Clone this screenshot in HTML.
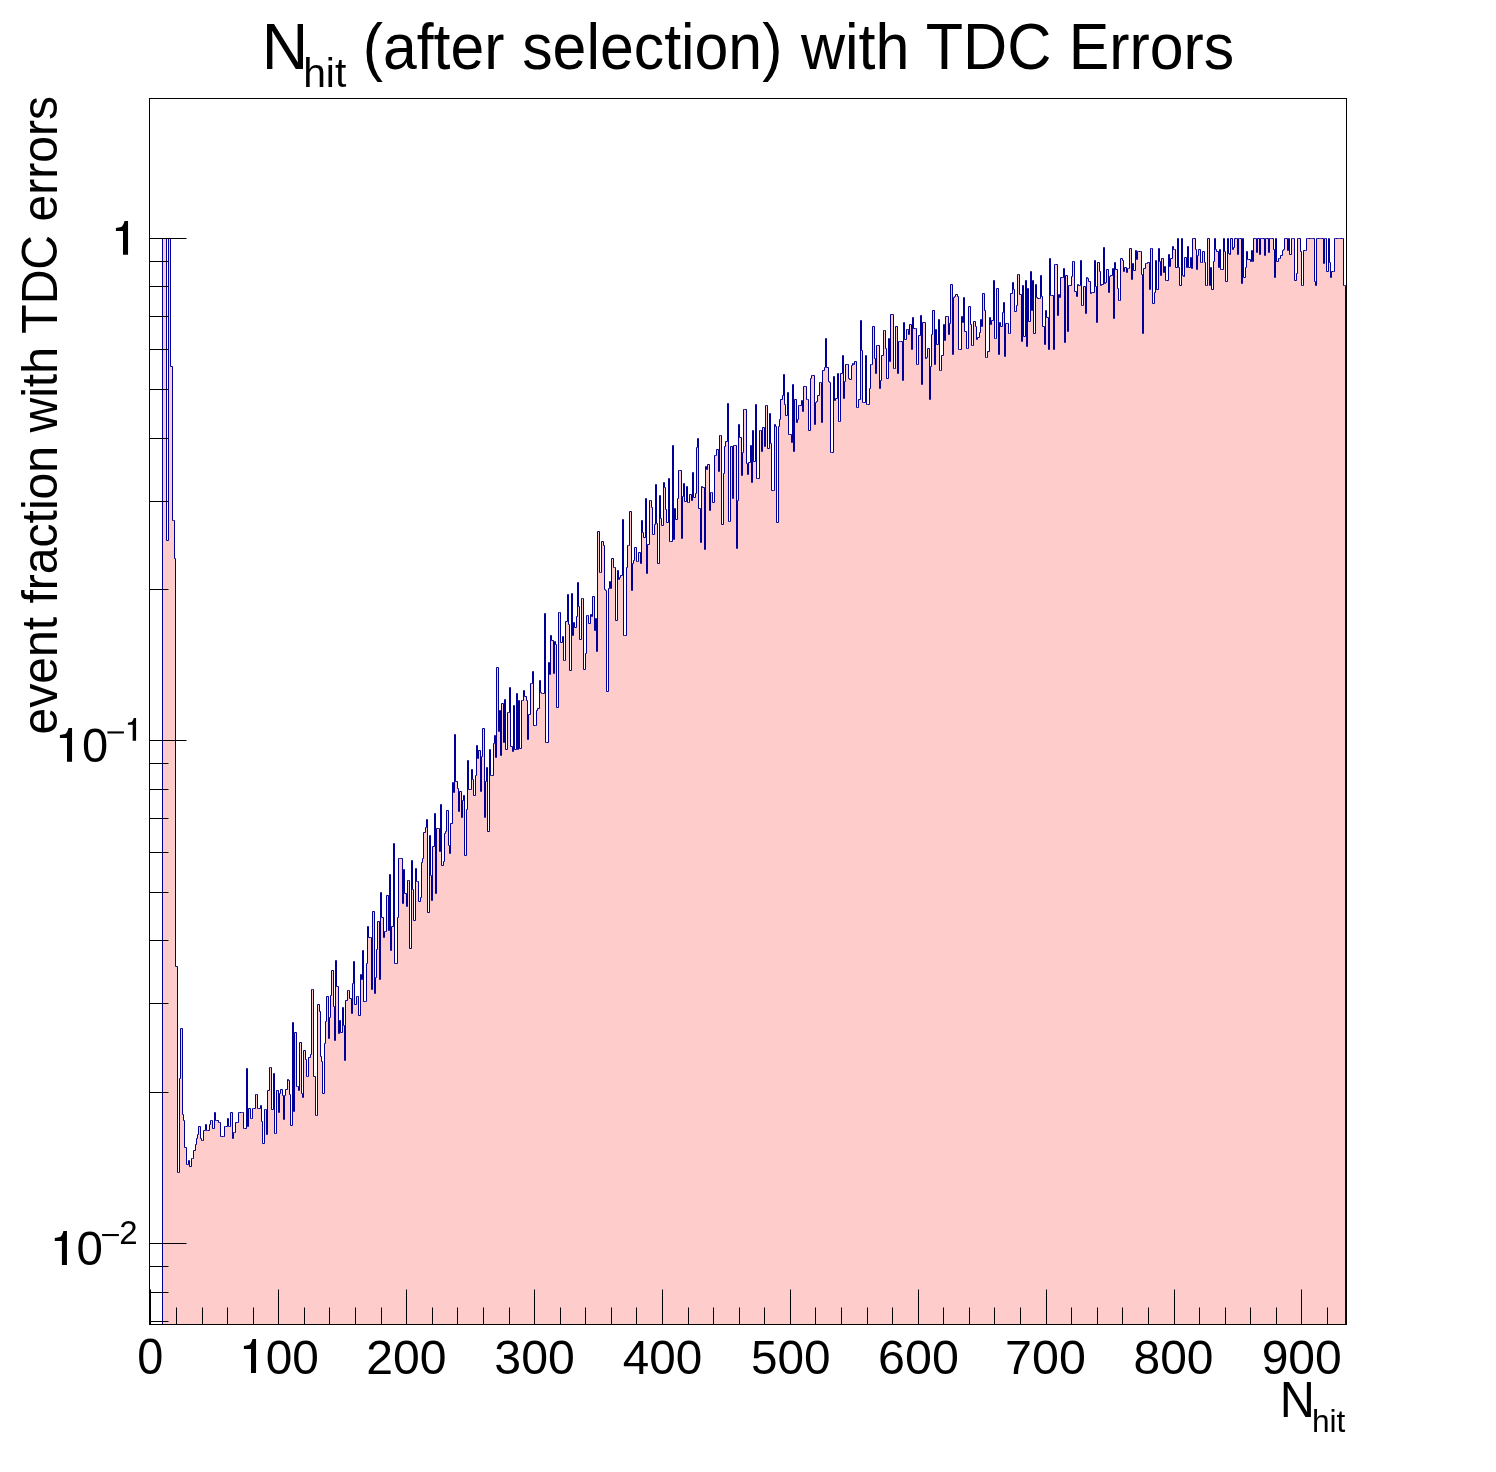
<!DOCTYPE html><html><head><meta charset="utf-8"><style>html,body{margin:0;padding:0;background:#fff;overflow:hidden}svg{display:block;will-change:transform}text{font-family:"Liberation Sans",sans-serif;fill:#000;font-kerning:none}</style></head><body>
<svg width="1496" height="1472" viewBox="0 0 1496 1472">
<rect x="0" y="0" width="1496" height="1472" fill="#fff"/>
<path d="M162.5 1324.5 162.5 238.5 164.5 238.5 164.5 238.5 165.5 238.5 165.5 238.5 166.5 238.5 166.5 540.5 168.5 540.5 168.5 238.5 169.5 238.5 169.5 238.5 170.5 238.5 170.5 366.5 172.5 366.5 172.5 520.5 173.5 520.5 173.5 520.5 174.5 520.5 174.5 558.5 175.5 558.5 175.5 966.5 177.5 966.5 177.5 1172.5 178.5 1172.5 178.5 1172.5 179.5 1172.5 179.5 1078.5 180.5 1078.5 180.5 1028.5 182.5 1028.5 182.5 1114.5 183.5 1114.5 183.5 1120.5 184.5 1120.5 184.5 1147.5 186.5 1147.5 186.5 1164.5 187.5 1164.5 187.5 1164.5 188.5 1164.5 188.5 1160.5 189.5 1160.5 189.5 1166.5 191.5 1166.5 191.5 1158.5 192.5 1158.5 192.5 1158.5 193.5 1158.5 193.5 1150.5 195.5 1150.5 195.5 1144.5 196.5 1144.5 196.5 1138.5 197.5 1138.5 197.5 1134.5 198.5 1134.5 198.5 1126.5 200.5 1126.5 200.5 1138.5 201.5 1138.5 201.5 1140.5 202.5 1140.5 202.5 1140.5 203.5 1140.5 203.5 1130.5 205.5 1130.5 205.5 1124.5 206.5 1124.5 206.5 1130.5 207.5 1130.5 207.5 1130.5 209.5 1130.5 209.5 1124.5 210.5 1124.5 210.5 1120.5 211.5 1120.5 211.5 1120.5 212.5 1120.5 212.5 1128.5 214.5 1128.5 214.5 1112.5 215.5 1112.5 215.5 1120.5 216.5 1120.5 216.5 1120.5 218.5 1120.5 218.5 1122.5 219.5 1122.5 219.5 1122.5 220.5 1122.5 220.5 1136.5 221.5 1136.5 221.5 1136.5 223.5 1136.5 223.5 1136.5 224.5 1136.5 224.5 1126.5 225.5 1126.5 225.5 1126.5 227.5 1126.5 227.5 1118.5 228.5 1118.5 228.5 1126.5 229.5 1126.5 229.5 1126.5 230.5 1126.5 230.5 1112.5 232.5 1112.5 232.5 1138.5 233.5 1138.5 233.5 1132.5 234.5 1132.5 234.5 1132.5 235.5 1132.5 235.5 1122.5 237.5 1122.5 237.5 1122.5 238.5 1122.5 238.5 1112.5 239.5 1112.5 239.5 1112.5 241.5 1112.5 241.5 1112.5 242.5 1112.5 242.5 1112.5 243.5 1112.5 243.5 1128.5 244.5 1128.5 244.5 1128.5 246.5 1128.5 246.5 1068.5 247.5 1068.5 247.5 1126.5 248.5 1126.5 248.5 1108.5 250.5 1108.5 250.5 1118.5 251.5 1118.5 251.5 1118.5 252.5 1118.5 252.5 1108.5 253.5 1108.5 253.5 1108.5 255.5 1108.5 255.5 1094.5 256.5 1094.5 256.5 1094.5 257.5 1094.5 257.5 1108.5 258.5 1108.5 258.5 1108.5 260.5 1108.5 260.5 1105.5 261.5 1105.5 261.5 1121.5 262.5 1121.5 262.5 1143.5 264.5 1143.5 264.5 1109.5 265.5 1109.5 265.5 1109.5 266.5 1109.5 266.5 1134.5 267.5 1134.5 267.5 1090.5 269.5 1090.5 269.5 1067.5 270.5 1067.5 270.5 1067.5 271.5 1067.5 271.5 1109.5 273.5 1109.5 273.5 1073.5 274.5 1073.5 274.5 1133.5 275.5 1133.5 275.5 1133.5 276.5 1133.5 276.5 1090.5 278.5 1090.5 278.5 1112.5 279.5 1112.5 279.5 1093.5 280.5 1093.5 280.5 1089.5 282.5 1089.5 282.5 1095.5 283.5 1095.5 283.5 1119.5 284.5 1119.5 284.5 1095.5 285.5 1095.5 285.5 1089.5 287.5 1089.5 287.5 1079.5 288.5 1079.5 288.5 1080.5 289.5 1080.5 289.5 1094.5 290.5 1094.5 290.5 1125.5 292.5 1125.5 292.5 1022.5 293.5 1022.5 293.5 1111.5 294.5 1111.5 294.5 1032.5 296.5 1032.5 296.5 1086.5 297.5 1086.5 297.5 1086.5 298.5 1086.5 298.5 1090.5 299.5 1090.5 299.5 1042.5 301.5 1042.5 301.5 1093.5 302.5 1093.5 302.5 1097.5 303.5 1097.5 303.5 1050.5 305.5 1050.5 305.5 1059.5 306.5 1059.5 306.5 1076.5 307.5 1076.5 307.5 1076.5 308.5 1076.5 308.5 1057.5 310.5 1057.5 310.5 1054.5 311.5 1054.5 311.5 989.5 312.5 989.5 312.5 989.5 313.5 989.5 313.5 1076.5 315.5 1076.5 315.5 1115.5 316.5 1115.5 316.5 1115.5 317.5 1115.5 317.5 1004.5 319.5 1004.5 319.5 1011.5 320.5 1011.5 320.5 1056.5 321.5 1056.5 321.5 1061.5 322.5 1061.5 322.5 1093.5 324.5 1093.5 324.5 1043.5 325.5 1043.5 325.5 1021.5 326.5 1021.5 326.5 996.5 328.5 996.5 328.5 1038.5 329.5 1038.5 329.5 1017.5 330.5 1017.5 330.5 995.5 331.5 995.5 331.5 970.5 333.5 970.5 333.5 1006.5 334.5 1006.5 334.5 1040.5 335.5 1040.5 335.5 960.5 336.5 960.5 336.5 986.5 338.5 986.5 338.5 1033.5 339.5 1033.5 339.5 1020.5 340.5 1020.5 340.5 1032.5 342.5 1032.5 342.5 1007.5 343.5 1007.5 343.5 1025.5 344.5 1025.5 344.5 1060.5 345.5 1060.5 345.5 1000.5 347.5 1000.5 347.5 990.5 348.5 990.5 348.5 990.5 349.5 990.5 349.5 998.5 351.5 998.5 351.5 1013.5 352.5 1013.5 352.5 983.5 353.5 983.5 353.5 961.5 354.5 961.5 354.5 1004.5 356.5 1004.5 356.5 996.5 357.5 996.5 357.5 996.5 358.5 996.5 358.5 1015.5 360.5 1015.5 360.5 974.5 361.5 974.5 361.5 979.5 362.5 979.5 362.5 950.5 363.5 950.5 363.5 1001.5 365.5 1001.5 365.5 1001.5 366.5 1001.5 366.5 963.5 367.5 963.5 367.5 926.5 368.5 926.5 368.5 937.5 370.5 937.5 370.5 937.5 371.5 937.5 371.5 989.5 372.5 989.5 372.5 911.5 374.5 911.5 374.5 993.5 375.5 993.5 375.5 977.5 376.5 977.5 376.5 949.5 377.5 949.5 377.5 921.5 379.5 921.5 379.5 979.5 380.5 979.5 380.5 892.5 381.5 892.5 381.5 917.5 383.5 917.5 383.5 937.5 384.5 937.5 384.5 931.5 385.5 931.5 385.5 931.5 386.5 931.5 386.5 895.5 388.5 895.5 388.5 930.5 389.5 930.5 389.5 874.5 390.5 874.5 390.5 950.5 391.5 950.5 391.5 926.5 393.5 926.5 393.5 843.5 394.5 843.5 394.5 963.5 395.5 963.5 395.5 963.5 397.5 963.5 397.5 917.5 398.5 917.5 398.5 858.5 399.5 858.5 399.5 858.5 400.5 858.5 400.5 858.5 402.5 858.5 402.5 903.5 403.5 903.5 403.5 869.5 404.5 869.5 404.5 893.5 406.5 893.5 406.5 906.5 407.5 906.5 407.5 880.5 408.5 880.5 408.5 880.5 409.5 880.5 409.5 948.5 411.5 948.5 411.5 860.5 412.5 860.5 412.5 889.5 413.5 889.5 413.5 920.5 415.5 920.5 415.5 868.5 416.5 868.5 416.5 881.5 417.5 881.5 417.5 881.5 418.5 881.5 418.5 901.5 420.5 901.5 420.5 897.5 421.5 897.5 421.5 862.5 422.5 862.5 422.5 858.5 423.5 858.5 423.5 832.5 425.5 832.5 425.5 827.5 426.5 827.5 426.5 819.5 427.5 819.5 427.5 912.5 429.5 912.5 429.5 835.5 430.5 835.5 430.5 875.5 431.5 875.5 431.5 900.5 432.5 900.5 432.5 846.5 434.5 846.5 434.5 813.5 435.5 813.5 435.5 893.5 436.5 893.5 436.5 828.5 438.5 828.5 438.5 828.5 439.5 828.5 439.5 851.5 440.5 851.5 440.5 804.5 441.5 804.5 441.5 865.5 443.5 865.5 443.5 861.5 444.5 861.5 444.5 833.5 445.5 833.5 445.5 831.5 446.5 831.5 446.5 810.5 448.5 810.5 448.5 845.5 449.5 845.5 449.5 853.5 450.5 853.5 450.5 823.5 452.5 823.5 452.5 782.5 453.5 782.5 453.5 792.5 454.5 792.5 454.5 734.5 455.5 734.5 455.5 781.5 457.5 781.5 457.5 788.5 458.5 788.5 458.5 811.5 459.5 811.5 459.5 791.5 461.5 791.5 461.5 817.5 462.5 817.5 462.5 800.5 463.5 800.5 463.5 795.5 464.5 795.5 464.5 855.5 466.5 855.5 466.5 809.5 467.5 809.5 467.5 760.5 468.5 760.5 468.5 789.5 470.5 789.5 470.5 789.5 471.5 789.5 471.5 769.5 472.5 769.5 472.5 779.5 473.5 779.5 473.5 795.5 475.5 795.5 475.5 775.5 476.5 775.5 476.5 745.5 477.5 745.5 477.5 758.5 478.5 758.5 478.5 750.5 480.5 750.5 480.5 791.5 481.5 791.5 481.5 756.5 482.5 756.5 482.5 728.5 484.5 728.5 484.5 817.5 485.5 817.5 485.5 781.5 486.5 781.5 486.5 767.5 487.5 767.5 487.5 831.5 489.5 831.5 489.5 749.5 490.5 749.5 490.5 775.5 491.5 775.5 491.5 775.5 493.5 775.5 493.5 743.5 494.5 743.5 494.5 735.5 495.5 735.5 495.5 757.5 496.5 757.5 496.5 667.5 498.5 667.5 498.5 731.5 499.5 731.5 499.5 710.5 500.5 710.5 500.5 755.5 501.5 755.5 501.5 703.5 503.5 703.5 503.5 742.5 504.5 742.5 504.5 699.5 505.5 699.5 505.5 749.5 507.5 749.5 507.5 712.5 508.5 712.5 508.5 712.5 509.5 712.5 509.5 687.5 510.5 687.5 510.5 746.5 512.5 746.5 512.5 751.5 513.5 751.5 513.5 705.5 514.5 705.5 514.5 749.5 516.5 749.5 516.5 693.5 517.5 693.5 517.5 749.5 518.5 749.5 518.5 700.5 519.5 700.5 519.5 748.5 521.5 748.5 521.5 700.5 522.5 700.5 522.5 700.5 523.5 700.5 523.5 690.5 524.5 690.5 524.5 696.5 526.5 696.5 526.5 700.5 527.5 700.5 527.5 739.5 528.5 739.5 528.5 714.5 530.5 714.5 530.5 683.5 531.5 683.5 531.5 683.5 532.5 683.5 532.5 671.5 533.5 671.5 533.5 725.5 535.5 725.5 535.5 725.5 536.5 725.5 536.5 710.5 537.5 710.5 537.5 708.5 539.5 708.5 539.5 680.5 540.5 680.5 540.5 692.5 541.5 692.5 541.5 693.5 542.5 693.5 542.5 693.5 544.5 693.5 544.5 613.5 545.5 613.5 545.5 742.5 546.5 742.5 546.5 742.5 548.5 742.5 548.5 662.5 549.5 662.5 549.5 674.5 550.5 674.5 550.5 635.5 551.5 635.5 551.5 640.5 553.5 640.5 553.5 673.5 554.5 673.5 554.5 641.5 555.5 641.5 555.5 644.5 556.5 644.5 556.5 707.5 558.5 707.5 558.5 612.5 559.5 612.5 559.5 612.5 560.5 612.5 560.5 642.5 562.5 642.5 562.5 636.5 563.5 636.5 563.5 660.5 564.5 660.5 564.5 660.5 565.5 660.5 565.5 621.5 567.5 621.5 567.5 594.5 568.5 594.5 568.5 624.5 569.5 624.5 569.5 670.5 571.5 670.5 571.5 593.5 572.5 593.5 572.5 635.5 573.5 635.5 573.5 622.5 574.5 622.5 574.5 627.5 576.5 627.5 576.5 616.5 577.5 616.5 577.5 582.5 578.5 582.5 578.5 606.5 579.5 606.5 579.5 639.5 581.5 639.5 581.5 598.5 582.5 598.5 582.5 598.5 583.5 598.5 583.5 669.5 585.5 669.5 585.5 653.5 586.5 653.5 586.5 615.5 587.5 615.5 587.5 615.5 588.5 615.5 588.5 623.5 590.5 623.5 590.5 614.5 591.5 614.5 591.5 616.5 592.5 616.5 592.5 596.5 594.5 596.5 594.5 630.5 595.5 630.5 595.5 618.5 596.5 618.5 596.5 651.5 597.5 651.5 597.5 531.5 599.5 531.5 599.5 572.5 600.5 572.5 600.5 572.5 601.5 572.5 601.5 541.5 603.5 541.5 603.5 545.5 604.5 545.5 604.5 589.5 605.5 589.5 605.5 590.5 606.5 590.5 606.5 691.5 608.5 691.5 608.5 588.5 609.5 588.5 609.5 581.5 610.5 581.5 610.5 588.5 611.5 588.5 611.5 558.5 613.5 558.5 613.5 567.5 614.5 567.5 614.5 567.5 615.5 567.5 615.5 620.5 617.5 620.5 617.5 570.5 618.5 570.5 618.5 579.5 619.5 579.5 619.5 577.5 620.5 577.5 620.5 575.5 622.5 575.5 622.5 519.5 623.5 519.5 623.5 635.5 624.5 635.5 624.5 635.5 626.5 635.5 626.5 567.5 627.5 567.5 627.5 545.5 628.5 545.5 628.5 545.5 629.5 545.5 629.5 511.5 631.5 511.5 631.5 590.5 632.5 590.5 632.5 563.5 633.5 563.5 633.5 560.5 634.5 560.5 634.5 547.5 636.5 547.5 636.5 561.5 637.5 561.5 637.5 561.5 638.5 561.5 638.5 552.5 640.5 552.5 640.5 563.5 641.5 563.5 641.5 520.5 642.5 520.5 642.5 532.5 643.5 532.5 643.5 537.5 645.5 537.5 645.5 498.5 646.5 498.5 646.5 573.5 647.5 573.5 647.5 544.5 649.5 544.5 649.5 500.5 650.5 500.5 650.5 500.5 651.5 500.5 651.5 507.5 652.5 507.5 652.5 534.5 654.5 534.5 654.5 524.5 655.5 524.5 655.5 484.5 656.5 484.5 656.5 523.5 657.5 523.5 657.5 563.5 659.5 563.5 659.5 495.5 660.5 495.5 660.5 518.5 661.5 518.5 661.5 525.5 663.5 525.5 663.5 482.5 664.5 482.5 664.5 487.5 665.5 487.5 665.5 509.5 666.5 509.5 666.5 522.5 668.5 522.5 668.5 478.5 669.5 478.5 669.5 541.5 670.5 541.5 670.5 541.5 672.5 541.5 672.5 445.5 673.5 445.5 673.5 539.5 674.5 539.5 674.5 508.5 675.5 508.5 675.5 519.5 677.5 519.5 677.5 498.5 678.5 498.5 678.5 470.5 679.5 470.5 679.5 470.5 681.5 470.5 681.5 538.5 682.5 538.5 682.5 496.5 683.5 496.5 683.5 483.5 684.5 483.5 684.5 501.5 686.5 501.5 686.5 486.5 687.5 486.5 687.5 502.5 688.5 502.5 688.5 502.5 689.5 502.5 689.5 494.5 691.5 494.5 691.5 500.5 692.5 500.5 692.5 472.5 693.5 472.5 693.5 497.5 695.5 497.5 695.5 493.5 696.5 493.5 696.5 447.5 697.5 447.5 697.5 438.5 698.5 438.5 698.5 508.5 700.5 508.5 700.5 542.5 701.5 542.5 701.5 486.5 702.5 486.5 702.5 487.5 704.5 487.5 704.5 549.5 705.5 549.5 705.5 466.5 706.5 466.5 706.5 469.5 707.5 469.5 707.5 464.5 709.5 464.5 709.5 510.5 710.5 510.5 710.5 492.5 711.5 492.5 711.5 492.5 712.5 492.5 712.5 502.5 714.5 502.5 714.5 455.5 715.5 455.5 715.5 455.5 716.5 455.5 716.5 449.5 718.5 449.5 718.5 471.5 719.5 471.5 719.5 435.5 720.5 435.5 720.5 435.5 721.5 435.5 721.5 524.5 723.5 524.5 723.5 473.5 724.5 473.5 724.5 446.5 725.5 446.5 725.5 441.5 727.5 441.5 727.5 403.5 728.5 403.5 728.5 521.5 729.5 521.5 729.5 521.5 730.5 521.5 730.5 446.5 732.5 446.5 732.5 498.5 733.5 498.5 733.5 445.5 734.5 445.5 734.5 445.5 736.5 445.5 736.5 548.5 737.5 548.5 737.5 500.5 738.5 500.5 738.5 424.5 739.5 424.5 739.5 437.5 741.5 437.5 741.5 475.5 742.5 475.5 742.5 452.5 743.5 452.5 743.5 409.5 744.5 409.5 744.5 409.5 746.5 409.5 746.5 463.5 747.5 463.5 747.5 474.5 748.5 474.5 748.5 462.5 750.5 462.5 750.5 445.5 751.5 445.5 751.5 482.5 752.5 482.5 752.5 430.5 753.5 430.5 753.5 461.5 755.5 461.5 755.5 404.5 756.5 404.5 756.5 478.5 757.5 478.5 757.5 478.5 759.5 478.5 759.5 430.5 760.5 430.5 760.5 430.5 761.5 430.5 761.5 451.5 762.5 451.5 762.5 427.5 764.5 427.5 764.5 446.5 765.5 446.5 765.5 405.5 766.5 405.5 766.5 405.5 767.5 405.5 767.5 448.5 769.5 448.5 769.5 413.5 770.5 413.5 770.5 443.5 771.5 443.5 771.5 490.5 773.5 490.5 773.5 490.5 774.5 490.5 774.5 424.5 775.5 424.5 775.5 426.5 776.5 426.5 776.5 522.5 778.5 522.5 778.5 426.5 779.5 426.5 779.5 419.5 780.5 419.5 780.5 399.5 782.5 399.5 782.5 395.5 783.5 395.5 783.5 374.5 784.5 374.5 784.5 404.5 785.5 404.5 785.5 415.5 787.5 415.5 787.5 392.5 788.5 392.5 788.5 434.5 789.5 434.5 789.5 434.5 791.5 434.5 791.5 442.5 792.5 442.5 792.5 384.5 793.5 384.5 793.5 451.5 794.5 451.5 794.5 399.5 796.5 399.5 796.5 422.5 797.5 422.5 797.5 419.5 798.5 419.5 798.5 405.5 799.5 405.5 799.5 405.5 801.5 405.5 801.5 400.5 802.5 400.5 802.5 411.5 803.5 411.5 803.5 386.5 805.5 386.5 805.5 386.5 806.5 386.5 806.5 399.5 807.5 399.5 807.5 399.5 808.5 399.5 808.5 430.5 810.5 430.5 810.5 378.5 811.5 378.5 811.5 375.5 812.5 375.5 812.5 375.5 814.5 375.5 814.5 424.5 815.5 424.5 815.5 402.5 816.5 402.5 816.5 401.5 817.5 401.5 817.5 395.5 819.5 395.5 819.5 382.5 820.5 382.5 820.5 382.5 821.5 382.5 821.5 422.5 822.5 422.5 822.5 370.5 824.5 370.5 824.5 367.5 825.5 367.5 825.5 338.5 826.5 338.5 826.5 367.5 828.5 367.5 828.5 381.5 829.5 381.5 829.5 382.5 830.5 382.5 830.5 452.5 831.5 452.5 831.5 452.5 833.5 452.5 833.5 376.5 834.5 376.5 834.5 400.5 835.5 400.5 835.5 398.5 837.5 398.5 837.5 373.5 838.5 373.5 838.5 421.5 839.5 421.5 839.5 421.5 840.5 421.5 840.5 373.5 842.5 373.5 842.5 355.5 843.5 355.5 843.5 398.5 844.5 398.5 844.5 381.5 845.5 381.5 845.5 364.5 847.5 364.5 847.5 364.5 848.5 364.5 848.5 378.5 849.5 378.5 849.5 379.5 851.5 379.5 851.5 365.5 852.5 365.5 852.5 363.5 853.5 363.5 853.5 364.5 854.5 364.5 854.5 361.5 856.5 361.5 856.5 407.5 857.5 407.5 857.5 407.5 858.5 407.5 858.5 399.5 860.5 399.5 860.5 320.5 861.5 320.5 861.5 350.5 862.5 350.5 862.5 402.5 863.5 402.5 863.5 402.5 865.5 402.5 865.5 355.5 866.5 355.5 866.5 404.5 867.5 404.5 867.5 404.5 869.5 404.5 869.5 388.5 870.5 388.5 870.5 364.5 871.5 364.5 871.5 364.5 872.5 364.5 872.5 326.5 874.5 326.5 874.5 358.5 875.5 358.5 875.5 373.5 876.5 373.5 876.5 345.5 877.5 345.5 877.5 345.5 879.5 345.5 879.5 388.5 880.5 388.5 880.5 380.5 881.5 380.5 881.5 355.5 883.5 355.5 883.5 330.5 884.5 330.5 884.5 330.5 885.5 330.5 885.5 348.5 886.5 348.5 886.5 378.5 888.5 378.5 888.5 338.5 889.5 338.5 889.5 361.5 890.5 361.5 890.5 314.5 892.5 314.5 892.5 314.5 893.5 314.5 893.5 368.5 894.5 368.5 894.5 368.5 895.5 368.5 895.5 326.5 897.5 326.5 897.5 373.5 898.5 373.5 898.5 341.5 899.5 341.5 899.5 341.5 900.5 341.5 900.5 341.5 902.5 341.5 902.5 380.5 903.5 380.5 903.5 322.5 904.5 322.5 904.5 339.5 906.5 339.5 906.5 329.5 907.5 329.5 907.5 329.5 908.5 329.5 908.5 334.5 909.5 334.5 909.5 324.5 911.5 324.5 911.5 349.5 912.5 349.5 912.5 317.5 913.5 317.5 913.5 328.5 915.5 328.5 915.5 328.5 916.5 328.5 916.5 364.5 917.5 364.5 917.5 364.5 918.5 364.5 918.5 335.5 920.5 335.5 920.5 315.5 921.5 315.5 921.5 384.5 922.5 384.5 922.5 322.5 924.5 322.5 924.5 322.5 925.5 322.5 925.5 358.5 926.5 358.5 926.5 357.5 927.5 357.5 927.5 348.5 929.5 348.5 929.5 399.5 930.5 399.5 930.5 366.5 931.5 366.5 931.5 334.5 932.5 334.5 932.5 310.5 934.5 310.5 934.5 364.5 935.5 364.5 935.5 329.5 936.5 329.5 936.5 344.5 938.5 344.5 938.5 319.5 939.5 319.5 939.5 370.5 940.5 370.5 940.5 370.5 941.5 370.5 941.5 355.5 943.5 355.5 943.5 324.5 944.5 324.5 944.5 340.5 945.5 340.5 945.5 316.5 947.5 316.5 947.5 316.5 948.5 316.5 948.5 334.5 949.5 334.5 949.5 323.5 950.5 323.5 950.5 284.5 952.5 284.5 952.5 354.5 953.5 354.5 953.5 297.5 954.5 297.5 954.5 296.5 955.5 296.5 955.5 294.5 957.5 294.5 957.5 296.5 958.5 296.5 958.5 349.5 959.5 349.5 959.5 349.5 961.5 349.5 961.5 316.5 962.5 316.5 962.5 322.5 963.5 322.5 963.5 297.5 964.5 297.5 964.5 331.5 966.5 331.5 966.5 348.5 967.5 348.5 967.5 348.5 968.5 348.5 968.5 306.5 970.5 306.5 970.5 324.5 971.5 324.5 971.5 345.5 972.5 345.5 972.5 345.5 973.5 345.5 973.5 321.5 975.5 321.5 975.5 326.5 976.5 326.5 976.5 339.5 977.5 339.5 977.5 337.5 979.5 337.5 979.5 332.5 980.5 332.5 980.5 319.5 981.5 319.5 981.5 326.5 982.5 326.5 982.5 293.5 984.5 293.5 984.5 310.5 985.5 310.5 985.5 357.5 986.5 357.5 986.5 357.5 987.5 357.5 987.5 351.5 989.5 351.5 989.5 317.5 990.5 317.5 990.5 324.5 991.5 324.5 991.5 320.5 993.5 320.5 993.5 280.5 994.5 280.5 994.5 338.5 995.5 338.5 995.5 338.5 996.5 338.5 996.5 288.5 998.5 288.5 998.5 354.5 999.5 354.5 999.5 322.5 1000.5 322.5 1000.5 326.5 1002.5 326.5 1002.5 312.5 1003.5 312.5 1003.5 302.5 1004.5 302.5 1004.5 356.5 1005.5 356.5 1005.5 323.5 1007.5 323.5 1007.5 323.5 1008.5 323.5 1008.5 333.5 1009.5 333.5 1009.5 333.5 1010.5 333.5 1010.5 293.5 1012.5 293.5 1012.5 282.5 1013.5 282.5 1013.5 289.5 1014.5 289.5 1014.5 311.5 1016.5 311.5 1016.5 305.5 1017.5 305.5 1017.5 274.5 1018.5 274.5 1018.5 274.5 1019.5 274.5 1019.5 294.5 1021.5 294.5 1021.5 341.5 1022.5 341.5 1022.5 285.5 1023.5 285.5 1023.5 336.5 1025.5 336.5 1025.5 280.5 1026.5 280.5 1026.5 346.5 1027.5 346.5 1027.5 288.5 1028.5 288.5 1028.5 321.5 1030.5 321.5 1030.5 271.5 1031.5 271.5 1031.5 310.5 1032.5 310.5 1032.5 280.5 1033.5 280.5 1033.5 333.5 1035.5 333.5 1035.5 284.5 1036.5 284.5 1036.5 297.5 1037.5 297.5 1037.5 298.5 1039.5 298.5 1039.5 298.5 1040.5 298.5 1040.5 275.5 1041.5 275.5 1041.5 296.5 1042.5 296.5 1042.5 326.5 1044.5 326.5 1044.5 344.5 1045.5 344.5 1045.5 310.5 1046.5 310.5 1046.5 317.5 1048.5 317.5 1048.5 349.5 1049.5 349.5 1049.5 258.5 1050.5 258.5 1050.5 295.5 1051.5 295.5 1051.5 295.5 1053.5 295.5 1053.5 349.5 1054.5 349.5 1054.5 264.5 1055.5 264.5 1055.5 264.5 1057.5 264.5 1057.5 315.5 1058.5 315.5 1058.5 294.5 1059.5 294.5 1059.5 297.5 1060.5 297.5 1060.5 277.5 1062.5 277.5 1062.5 277.5 1063.5 277.5 1063.5 268.5 1064.5 268.5 1064.5 342.5 1065.5 342.5 1065.5 275.5 1067.5 275.5 1067.5 331.5 1068.5 331.5 1068.5 285.5 1069.5 285.5 1069.5 285.5 1071.5 285.5 1071.5 276.5 1072.5 276.5 1072.5 261.5 1073.5 261.5 1073.5 261.5 1074.5 261.5 1074.5 291.5 1076.5 291.5 1076.5 296.5 1077.5 296.5 1077.5 284.5 1078.5 284.5 1078.5 285.5 1080.5 285.5 1080.5 260.5 1081.5 260.5 1081.5 305.5 1082.5 305.5 1082.5 305.5 1083.5 305.5 1083.5 286.5 1085.5 286.5 1085.5 313.5 1086.5 313.5 1086.5 277.5 1087.5 277.5 1087.5 278.5 1088.5 278.5 1088.5 281.5 1090.5 281.5 1090.5 293.5 1091.5 293.5 1091.5 292.5 1092.5 292.5 1092.5 292.5 1094.5 292.5 1094.5 260.5 1095.5 260.5 1095.5 286.5 1096.5 286.5 1096.5 322.5 1097.5 322.5 1097.5 262.5 1099.5 262.5 1099.5 271.5 1100.5 271.5 1100.5 285.5 1101.5 285.5 1101.5 284.5 1103.5 284.5 1103.5 247.5 1104.5 247.5 1104.5 283.5 1105.5 283.5 1105.5 282.5 1106.5 282.5 1106.5 269.5 1108.5 269.5 1108.5 292.5 1109.5 292.5 1109.5 276.5 1110.5 276.5 1110.5 275.5 1112.5 275.5 1112.5 268.5 1113.5 268.5 1113.5 318.5 1114.5 318.5 1114.5 262.5 1115.5 262.5 1115.5 269.5 1117.5 269.5 1117.5 288.5 1118.5 288.5 1118.5 300.5 1119.5 300.5 1119.5 300.5 1120.5 300.5 1120.5 258.5 1122.5 258.5 1122.5 260.5 1123.5 260.5 1123.5 271.5 1124.5 271.5 1124.5 267.5 1126.5 267.5 1126.5 272.5 1127.5 272.5 1127.5 268.5 1128.5 268.5 1128.5 268.5 1129.5 268.5 1129.5 248.5 1131.5 248.5 1131.5 279.5 1132.5 279.5 1132.5 263.5 1133.5 263.5 1133.5 270.5 1135.5 270.5 1135.5 250.5 1136.5 250.5 1136.5 259.5 1137.5 259.5 1137.5 251.5 1138.5 251.5 1138.5 251.5 1140.5 251.5 1140.5 251.5 1141.5 251.5 1141.5 274.5 1142.5 274.5 1142.5 333.5 1143.5 333.5 1143.5 268.5 1145.5 268.5 1145.5 263.5 1146.5 263.5 1146.5 263.5 1147.5 263.5 1147.5 262.5 1149.5 262.5 1149.5 289.5 1150.5 289.5 1150.5 248.5 1151.5 248.5 1151.5 248.5 1152.5 248.5 1152.5 303.5 1154.5 303.5 1154.5 292.5 1155.5 292.5 1155.5 260.5 1156.5 260.5 1156.5 289.5 1158.5 289.5 1158.5 248.5 1159.5 248.5 1159.5 261.5 1160.5 261.5 1160.5 275.5 1161.5 275.5 1161.5 258.5 1163.5 258.5 1163.5 272.5 1164.5 272.5 1164.5 266.5 1165.5 266.5 1165.5 280.5 1166.5 280.5 1166.5 280.5 1168.5 280.5 1168.5 254.5 1169.5 254.5 1169.5 266.5 1170.5 266.5 1170.5 258.5 1172.5 258.5 1172.5 246.5 1173.5 246.5 1173.5 249.5 1174.5 249.5 1174.5 249.5 1175.5 249.5 1175.5 267.5 1177.5 267.5 1177.5 238.5 1178.5 238.5 1178.5 267.5 1179.5 267.5 1179.5 285.5 1181.5 285.5 1181.5 238.5 1182.5 238.5 1182.5 275.5 1183.5 275.5 1183.5 276.5 1184.5 276.5 1184.5 257.5 1186.5 257.5 1186.5 267.5 1187.5 267.5 1187.5 246.5 1188.5 246.5 1188.5 267.5 1190.5 267.5 1190.5 257.5 1191.5 257.5 1191.5 268.5 1192.5 268.5 1192.5 238.5 1193.5 238.5 1193.5 238.5 1195.5 238.5 1195.5 249.5 1196.5 249.5 1196.5 269.5 1197.5 269.5 1197.5 255.5 1198.5 255.5 1198.5 249.5 1200.5 249.5 1200.5 262.5 1201.5 262.5 1201.5 262.5 1202.5 262.5 1202.5 251.5 1204.5 251.5 1204.5 262.5 1205.5 262.5 1205.5 285.5 1206.5 285.5 1206.5 285.5 1207.5 285.5 1207.5 238.5 1209.5 238.5 1209.5 285.5 1210.5 285.5 1210.5 267.5 1211.5 267.5 1211.5 289.5 1213.5 289.5 1213.5 261.5 1214.5 261.5 1214.5 238.5 1215.5 238.5 1215.5 249.5 1216.5 249.5 1216.5 251.5 1218.5 251.5 1218.5 267.5 1219.5 267.5 1219.5 249.5 1220.5 249.5 1220.5 269.5 1221.5 269.5 1221.5 269.5 1223.5 269.5 1223.5 238.5 1224.5 238.5 1224.5 251.5 1225.5 251.5 1225.5 281.5 1227.5 281.5 1227.5 238.5 1228.5 238.5 1228.5 253.5 1229.5 253.5 1229.5 254.5 1230.5 254.5 1230.5 238.5 1232.5 238.5 1232.5 249.5 1233.5 249.5 1233.5 247.5 1234.5 247.5 1234.5 238.5 1236.5 238.5 1236.5 238.5 1237.5 238.5 1237.5 254.5 1238.5 254.5 1238.5 238.5 1239.5 238.5 1239.5 238.5 1241.5 238.5 1241.5 283.5 1242.5 283.5 1242.5 238.5 1243.5 238.5 1243.5 277.5 1245.5 277.5 1245.5 267.5 1246.5 267.5 1246.5 251.5 1247.5 251.5 1247.5 259.5 1248.5 259.5 1248.5 259.5 1250.5 259.5 1250.5 261.5 1251.5 261.5 1251.5 250.5 1252.5 250.5 1252.5 261.5 1253.5 261.5 1253.5 238.5 1255.5 238.5 1255.5 238.5 1256.5 238.5 1256.5 252.5 1257.5 252.5 1257.5 238.5 1259.5 238.5 1259.5 254.5 1260.5 254.5 1260.5 238.5 1261.5 238.5 1261.5 238.5 1262.5 238.5 1262.5 238.5 1264.5 238.5 1264.5 255.5 1265.5 255.5 1265.5 238.5 1266.5 238.5 1266.5 238.5 1268.5 238.5 1268.5 252.5 1269.5 252.5 1269.5 238.5 1270.5 238.5 1270.5 238.5 1271.5 238.5 1271.5 238.5 1273.5 238.5 1273.5 249.5 1274.5 249.5 1274.5 277.5 1275.5 277.5 1275.5 238.5 1276.5 238.5 1276.5 261.5 1278.5 261.5 1278.5 258.5 1279.5 258.5 1279.5 258.5 1280.5 258.5 1280.5 255.5 1282.5 255.5 1282.5 250.5 1283.5 250.5 1283.5 249.5 1284.5 249.5 1284.5 238.5 1285.5 238.5 1285.5 238.5 1287.5 238.5 1287.5 250.5 1288.5 250.5 1288.5 238.5 1289.5 238.5 1289.5 254.5 1291.5 254.5 1291.5 238.5 1292.5 238.5 1292.5 238.5 1293.5 238.5 1293.5 238.5 1294.5 238.5 1294.5 280.5 1296.5 280.5 1296.5 273.5 1297.5 273.5 1297.5 238.5 1298.5 238.5 1298.5 238.5 1300.5 238.5 1300.5 251.5 1301.5 251.5 1301.5 285.5 1302.5 285.5 1302.5 285.5 1303.5 285.5 1303.5 250.5 1305.5 250.5 1305.5 250.5 1306.5 250.5 1306.5 238.5 1307.5 238.5 1307.5 238.5 1308.5 238.5 1308.5 238.5 1310.5 238.5 1310.5 238.5 1311.5 238.5 1311.5 238.5 1312.5 238.5 1312.5 238.5 1314.5 238.5 1314.5 281.5 1315.5 281.5 1315.5 285.5 1316.5 285.5 1316.5 238.5 1317.5 238.5 1317.5 238.5 1319.5 238.5 1319.5 238.5 1320.5 238.5 1320.5 238.5 1321.5 238.5 1321.5 238.5 1323.5 238.5 1323.5 263.5 1324.5 263.5 1324.5 238.5 1325.5 238.5 1325.5 238.5 1326.5 238.5 1326.5 271.5 1328.5 271.5 1328.5 238.5 1329.5 238.5 1329.5 262.5 1330.5 262.5 1330.5 277.5 1331.5 277.5 1331.5 271.5 1333.5 271.5 1333.5 271.5 1334.5 271.5 1334.5 238.5 1335.5 238.5 1335.5 238.5 1337.5 238.5 1337.5 238.5 1338.5 238.5 1338.5 238.5 1339.5 238.5 1339.5 238.5 1340.5 238.5 1340.5 238.5 1342.5 238.5 1342.5 238.5 1343.5 238.5 1343.5 285.5 1344.5 285.5 1344.5 285.5 1345.5 285.5 1345.5 1324.5Z" fill="#ffcccc" stroke="none"/>
<path d="M162.5 1324.5 162.5 238.5 164.5 238.5 164.5 238.5 165.5 238.5 165.5 238.5 166.5 238.5 166.5 540.5 168.5 540.5 168.5 238.5 169.5 238.5 169.5 238.5 170.5 238.5 170.5 366.5 172.5 366.5 172.5 520.5 173.5 520.5 173.5 520.5 174.5 520.5 174.5 558.5 175.5 558.5 175.5 966.5 177.5 966.5 177.5 1172.5 178.5 1172.5 178.5 1172.5 179.5 1172.5 179.5 1078.5 180.5 1078.5 180.5 1028.5 182.5 1028.5 182.5 1114.5 183.5 1114.5 183.5 1120.5 184.5 1120.5 184.5 1147.5 186.5 1147.5 186.5 1164.5 187.5 1164.5 187.5 1164.5 188.5 1164.5 188.5 1160.5 189.5 1160.5 189.5 1166.5 191.5 1166.5 191.5 1158.5 192.5 1158.5 192.5 1158.5 193.5 1158.5 193.5 1150.5 195.5 1150.5 195.5 1144.5 196.5 1144.5 196.5 1138.5 197.5 1138.5 197.5 1134.5 198.5 1134.5 198.5 1126.5 200.5 1126.5 200.5 1138.5 201.5 1138.5 201.5 1140.5 202.5 1140.5 202.5 1140.5 203.5 1140.5 203.5 1130.5 205.5 1130.5 205.5 1124.5 206.5 1124.5 206.5 1130.5 207.5 1130.5 207.5 1130.5 209.5 1130.5 209.5 1124.5 210.5 1124.5 210.5 1120.5 211.5 1120.5 211.5 1120.5 212.5 1120.5 212.5 1128.5 214.5 1128.5 214.5 1112.5 215.5 1112.5 215.5 1120.5 216.5 1120.5 216.5 1120.5 218.5 1120.5 218.5 1122.5 219.5 1122.5 219.5 1122.5 220.5 1122.5 220.5 1136.5 221.5 1136.5 221.5 1136.5 223.5 1136.5 223.5 1136.5 224.5 1136.5 224.5 1126.5 225.5 1126.5 225.5 1126.5 227.5 1126.5 227.5 1118.5 228.5 1118.5 228.5 1126.5 229.5 1126.5 229.5 1126.5 230.5 1126.5 230.5 1112.5 232.5 1112.5 232.5 1138.5 233.5 1138.5 233.5 1132.5 234.5 1132.5 234.5 1132.5 235.5 1132.5 235.5 1122.5 237.5 1122.5 237.5 1122.5 238.5 1122.5 238.5 1112.5 239.5 1112.5 239.5 1112.5 241.5 1112.5 241.5 1112.5 242.5 1112.5 242.5 1112.5 243.5 1112.5 243.5 1128.5 244.5 1128.5 244.5 1128.5 246.5 1128.5 246.5 1068.5 247.5 1068.5 247.5 1126.5 248.5 1126.5 248.5 1108.5 250.5 1108.5 250.5 1118.5 251.5 1118.5 251.5 1118.5 252.5 1118.5 252.5 1108.5 253.5 1108.5 253.5 1108.5 255.5 1108.5 255.5 1094.5 256.5 1094.5 256.5 1094.5 257.5 1094.5 257.5 1108.5 258.5 1108.5 258.5 1108.5 260.5 1108.5 260.5 1105.5 261.5 1105.5 261.5 1121.5 262.5 1121.5 262.5 1143.5 264.5 1143.5 264.5 1109.5 265.5 1109.5 265.5 1109.5 266.5 1109.5 266.5 1134.5 267.5 1134.5 267.5 1090.5 269.5 1090.5 269.5 1067.5 270.5 1067.5 270.5 1067.5 271.5 1067.5 271.5 1109.5 273.5 1109.5 273.5 1073.5 274.5 1073.5 274.5 1133.5 275.5 1133.5 275.5 1133.5 276.5 1133.5 276.5 1090.5 278.5 1090.5 278.5 1112.5 279.5 1112.5 279.5 1093.5 280.5 1093.5 280.5 1089.5 282.5 1089.5 282.5 1095.5 283.5 1095.5 283.5 1119.5 284.5 1119.5 284.5 1095.5 285.5 1095.5 285.5 1089.5 287.5 1089.5 287.5 1079.5 288.5 1079.5 288.5 1080.5 289.5 1080.5 289.5 1094.5 290.5 1094.5 290.5 1125.5 292.5 1125.5 292.5 1022.5 293.5 1022.5 293.5 1111.5 294.5 1111.5 294.5 1032.5 296.5 1032.5 296.5 1086.5 297.5 1086.5 297.5 1086.5 298.5 1086.5 298.5 1090.5 299.5 1090.5 299.5 1042.5 301.5 1042.5 301.5 1093.5 302.5 1093.5 302.5 1097.5 303.5 1097.5 303.5 1050.5 305.5 1050.5 305.5 1059.5 306.5 1059.5 306.5 1076.5 307.5 1076.5 307.5 1076.5 308.5 1076.5 308.5 1057.5 310.5 1057.5 310.5 1054.5 311.5 1054.5 311.5 989.5 312.5 989.5 312.5 989.5 313.5 989.5 313.5 1076.5 315.5 1076.5 315.5 1115.5 316.5 1115.5 316.5 1115.5 317.5 1115.5 317.5 1004.5 319.5 1004.5 319.5 1011.5 320.5 1011.5 320.5 1056.5 321.5 1056.5 321.5 1061.5 322.5 1061.5 322.5 1093.5 324.5 1093.5 324.5 1043.5 325.5 1043.5 325.5 1021.5 326.5 1021.5 326.5 996.5 328.5 996.5 328.5 1038.5 329.5 1038.5 329.5 1017.5 330.5 1017.5 330.5 995.5 331.5 995.5 331.5 970.5 333.5 970.5 333.5 1006.5 334.5 1006.5 334.5 1040.5 335.5 1040.5 335.5 960.5 336.5 960.5 336.5 986.5 338.5 986.5 338.5 1033.5 339.5 1033.5 339.5 1020.5 340.5 1020.5 340.5 1032.5 342.5 1032.5 342.5 1007.5 343.5 1007.5 343.5 1025.5 344.5 1025.5 344.5 1060.5 345.5 1060.5 345.5 1000.5 347.5 1000.5 347.5 990.5 348.5 990.5 348.5 990.5 349.5 990.5 349.5 998.5 351.5 998.5 351.5 1013.5 352.5 1013.5 352.5 983.5 353.5 983.5 353.5 961.5 354.5 961.5 354.5 1004.5 356.5 1004.5 356.5 996.5 357.5 996.5 357.5 996.5 358.5 996.5 358.5 1015.5 360.5 1015.5 360.5 974.5 361.5 974.5 361.5 979.5 362.5 979.5 362.5 950.5 363.5 950.5 363.5 1001.5 365.5 1001.5 365.5 1001.5 366.5 1001.5 366.5 963.5 367.5 963.5 367.5 926.5 368.5 926.5 368.5 937.5 370.5 937.5 370.5 937.5 371.5 937.5 371.5 989.5 372.5 989.5 372.5 911.5 374.5 911.5 374.5 993.5 375.5 993.5 375.5 977.5 376.5 977.5 376.5 949.5 377.5 949.5 377.5 921.5 379.5 921.5 379.5 979.5 380.5 979.5 380.5 892.5 381.5 892.5 381.5 917.5 383.5 917.5 383.5 937.5 384.5 937.5 384.5 931.5 385.5 931.5 385.5 931.5 386.5 931.5 386.5 895.5 388.5 895.5 388.5 930.5 389.5 930.5 389.5 874.5 390.5 874.5 390.5 950.5 391.5 950.5 391.5 926.5 393.5 926.5 393.5 843.5 394.5 843.5 394.5 963.5 395.5 963.5 395.5 963.5 397.5 963.5 397.5 917.5 398.5 917.5 398.5 858.5 399.5 858.5 399.5 858.5 400.5 858.5 400.5 858.5 402.5 858.5 402.5 903.5 403.5 903.5 403.5 869.5 404.5 869.5 404.5 893.5 406.5 893.5 406.5 906.5 407.5 906.5 407.5 880.5 408.5 880.5 408.5 880.5 409.5 880.5 409.5 948.5 411.5 948.5 411.5 860.5 412.5 860.5 412.5 889.5 413.5 889.5 413.5 920.5 415.5 920.5 415.5 868.5 416.5 868.5 416.5 881.5 417.5 881.5 417.5 881.5 418.5 881.5 418.5 901.5 420.5 901.5 420.5 897.5 421.5 897.5 421.5 862.5 422.5 862.5 422.5 858.5 423.5 858.5 423.5 832.5 425.5 832.5 425.5 827.5 426.5 827.5 426.5 819.5 427.5 819.5 427.5 912.5 429.5 912.5 429.5 835.5 430.5 835.5 430.5 875.5 431.5 875.5 431.5 900.5 432.5 900.5 432.5 846.5 434.5 846.5 434.5 813.5 435.5 813.5 435.5 893.5 436.5 893.5 436.5 828.5 438.5 828.5 438.5 828.5 439.5 828.5 439.5 851.5 440.5 851.5 440.5 804.5 441.5 804.5 441.5 865.5 443.5 865.5 443.5 861.5 444.5 861.5 444.5 833.5 445.5 833.5 445.5 831.5 446.5 831.5 446.5 810.5 448.5 810.5 448.5 845.5 449.5 845.5 449.5 853.5 450.5 853.5 450.5 823.5 452.5 823.5 452.5 782.5 453.5 782.5 453.5 792.5 454.5 792.5 454.5 734.5 455.5 734.5 455.5 781.5 457.5 781.5 457.5 788.5 458.5 788.5 458.5 811.5 459.5 811.5 459.5 791.5 461.5 791.5 461.5 817.5 462.5 817.5 462.5 800.5 463.5 800.5 463.5 795.5 464.5 795.5 464.5 855.5 466.5 855.5 466.5 809.5 467.5 809.5 467.5 760.5 468.5 760.5 468.5 789.5 470.5 789.5 470.5 789.5 471.5 789.5 471.5 769.5 472.5 769.5 472.5 779.5 473.5 779.5 473.5 795.5 475.5 795.5 475.5 775.5 476.5 775.5 476.5 745.5 477.5 745.5 477.5 758.5 478.5 758.5 478.5 750.5 480.5 750.5 480.5 791.5 481.5 791.5 481.5 756.5 482.5 756.5 482.5 728.5 484.5 728.5 484.5 817.5 485.5 817.5 485.5 781.5 486.5 781.5 486.5 767.5 487.5 767.5 487.5 831.5 489.5 831.5 489.5 749.5 490.5 749.5 490.5 775.5 491.5 775.5 491.5 775.5 493.5 775.5 493.5 743.5 494.5 743.5 494.5 735.5 495.5 735.5 495.5 757.5 496.5 757.5 496.5 667.5 498.5 667.5 498.5 731.5 499.5 731.5 499.5 710.5 500.5 710.5 500.5 755.5 501.5 755.5 501.5 703.5 503.5 703.5 503.5 742.5 504.5 742.5 504.5 699.5 505.5 699.5 505.5 749.5 507.5 749.5 507.5 712.5 508.5 712.5 508.5 712.5 509.5 712.5 509.5 687.5 510.5 687.5 510.5 746.5 512.5 746.5 512.5 751.5 513.5 751.5 513.5 705.5 514.5 705.5 514.5 749.5 516.5 749.5 516.5 693.5 517.5 693.5 517.5 749.5 518.5 749.5 518.5 700.5 519.5 700.5 519.5 748.5 521.5 748.5 521.5 700.5 522.5 700.5 522.5 700.5 523.5 700.5 523.5 690.5 524.5 690.5 524.5 696.5 526.5 696.5 526.5 700.5 527.5 700.5 527.5 739.5 528.5 739.5 528.5 714.5 530.5 714.5 530.5 683.5 531.5 683.5 531.5 683.5 532.5 683.5 532.5 671.5 533.5 671.5 533.5 725.5 535.5 725.5 535.5 725.5 536.5 725.5 536.5 710.5 537.5 710.5 537.5 708.5 539.5 708.5 539.5 680.5 540.5 680.5 540.5 692.5 541.5 692.5 541.5 693.5 542.5 693.5 542.5 693.5 544.5 693.5 544.5 613.5 545.5 613.5 545.5 742.5 546.5 742.5 546.5 742.5 548.5 742.5 548.5 662.5 549.5 662.5 549.5 674.5 550.5 674.5 550.5 635.5 551.5 635.5 551.5 640.5 553.5 640.5 553.5 673.5 554.5 673.5 554.5 641.5 555.5 641.5 555.5 644.5 556.5 644.5 556.5 707.5 558.5 707.5 558.5 612.5 559.5 612.5 559.5 612.5 560.5 612.5 560.5 642.5 562.5 642.5 562.5 636.5 563.5 636.5 563.5 660.5 564.5 660.5 564.5 660.5 565.5 660.5 565.5 621.5 567.5 621.5 567.5 594.5 568.5 594.5 568.5 624.5 569.5 624.5 569.5 670.5 571.5 670.5 571.5 593.5 572.5 593.5 572.5 635.5 573.5 635.5 573.5 622.5 574.5 622.5 574.5 627.5 576.5 627.5 576.5 616.5 577.5 616.5 577.5 582.5 578.5 582.5 578.5 606.5 579.5 606.5 579.5 639.5 581.5 639.5 581.5 598.5 582.5 598.5 582.5 598.5 583.5 598.5 583.5 669.5 585.5 669.5 585.5 653.5 586.5 653.5 586.5 615.5 587.5 615.5 587.5 615.5 588.5 615.5 588.5 623.5 590.5 623.5 590.5 614.5 591.5 614.5 591.5 616.5 592.5 616.5 592.5 596.5 594.5 596.5 594.5 630.5 595.5 630.5 595.5 618.5 596.5 618.5 596.5 651.5 597.5 651.5 597.5 531.5 599.5 531.5 599.5 572.5 600.5 572.5 600.5 572.5 601.5 572.5 601.5 541.5 603.5 541.5 603.5 545.5 604.5 545.5 604.5 589.5 605.5 589.5 605.5 590.5 606.5 590.5 606.5 691.5 608.5 691.5 608.5 588.5 609.5 588.5 609.5 581.5 610.5 581.5 610.5 588.5 611.5 588.5 611.5 558.5 613.5 558.5 613.5 567.5 614.5 567.5 614.5 567.5 615.5 567.5 615.5 620.5 617.5 620.5 617.5 570.5 618.5 570.5 618.5 579.5 619.5 579.5 619.5 577.5 620.5 577.5 620.5 575.5 622.5 575.5 622.5 519.5 623.5 519.5 623.5 635.5 624.5 635.5 624.5 635.5 626.5 635.5 626.5 567.5 627.5 567.5 627.5 545.5 628.5 545.5 628.5 545.5 629.5 545.5 629.5 511.5 631.5 511.5 631.5 590.5 632.5 590.5 632.5 563.5 633.5 563.5 633.5 560.5 634.5 560.5 634.5 547.5 636.5 547.5 636.5 561.5 637.5 561.5 637.5 561.5 638.5 561.5 638.5 552.5 640.5 552.5 640.5 563.5 641.5 563.5 641.5 520.5 642.5 520.5 642.5 532.5 643.5 532.5 643.5 537.5 645.5 537.5 645.5 498.5 646.5 498.5 646.5 573.5 647.5 573.5 647.5 544.5 649.5 544.5 649.5 500.5 650.5 500.5 650.5 500.5 651.5 500.5 651.5 507.5 652.5 507.5 652.5 534.5 654.5 534.5 654.5 524.5 655.5 524.5 655.5 484.5 656.5 484.5 656.5 523.5 657.5 523.5 657.5 563.5 659.5 563.5 659.5 495.5 660.5 495.5 660.5 518.5 661.5 518.5 661.5 525.5 663.5 525.5 663.5 482.5 664.5 482.5 664.5 487.5 665.5 487.5 665.5 509.5 666.5 509.5 666.5 522.5 668.5 522.5 668.5 478.5 669.5 478.5 669.5 541.5 670.5 541.5 670.5 541.5 672.5 541.5 672.5 445.5 673.5 445.5 673.5 539.5 674.5 539.5 674.5 508.5 675.5 508.5 675.5 519.5 677.5 519.5 677.5 498.5 678.5 498.5 678.5 470.5 679.5 470.5 679.5 470.5 681.5 470.5 681.5 538.5 682.5 538.5 682.5 496.5 683.5 496.5 683.5 483.5 684.5 483.5 684.5 501.5 686.5 501.5 686.5 486.5 687.5 486.5 687.5 502.5 688.5 502.5 688.5 502.5 689.5 502.5 689.5 494.5 691.5 494.5 691.5 500.5 692.5 500.5 692.5 472.5 693.5 472.5 693.5 497.5 695.5 497.5 695.5 493.5 696.5 493.5 696.5 447.5 697.5 447.5 697.5 438.5 698.5 438.5 698.5 508.5 700.5 508.5 700.5 542.5 701.5 542.5 701.5 486.5 702.5 486.5 702.5 487.5 704.5 487.5 704.5 549.5 705.5 549.5 705.5 466.5 706.5 466.5 706.5 469.5 707.5 469.5 707.5 464.5 709.5 464.5 709.5 510.5 710.5 510.5 710.5 492.5 711.5 492.5 711.5 492.5 712.5 492.5 712.5 502.5 714.5 502.5 714.5 455.5 715.5 455.5 715.5 455.5 716.5 455.5 716.5 449.5 718.5 449.5 718.5 471.5 719.5 471.5 719.5 435.5 720.5 435.5 720.5 435.5 721.5 435.5 721.5 524.5 723.5 524.5 723.5 473.5 724.5 473.5 724.5 446.5 725.5 446.5 725.5 441.5 727.5 441.5 727.5 403.5 728.5 403.5 728.5 521.5 729.5 521.5 729.5 521.5 730.5 521.5 730.5 446.5 732.5 446.5 732.5 498.5 733.5 498.5 733.5 445.5 734.5 445.5 734.5 445.5 736.5 445.5 736.5 548.5 737.5 548.5 737.5 500.5 738.5 500.5 738.5 424.5 739.5 424.5 739.5 437.5 741.5 437.5 741.5 475.5 742.5 475.5 742.5 452.5 743.5 452.5 743.5 409.5 744.5 409.5 744.5 409.5 746.5 409.5 746.5 463.5 747.5 463.5 747.5 474.5 748.5 474.5 748.5 462.5 750.5 462.5 750.5 445.5 751.5 445.5 751.5 482.5 752.5 482.5 752.5 430.5 753.5 430.5 753.5 461.5 755.5 461.5 755.5 404.5 756.5 404.5 756.5 478.5 757.5 478.5 757.5 478.5 759.5 478.5 759.5 430.5 760.5 430.5 760.5 430.5 761.5 430.5 761.5 451.5 762.5 451.5 762.5 427.5 764.5 427.5 764.5 446.5 765.5 446.5 765.5 405.5 766.5 405.5 766.5 405.5 767.5 405.5 767.5 448.5 769.5 448.5 769.5 413.5 770.5 413.5 770.5 443.5 771.5 443.5 771.5 490.5 773.5 490.5 773.5 490.5 774.5 490.5 774.5 424.5 775.5 424.5 775.5 426.5 776.5 426.5 776.5 522.5 778.5 522.5 778.5 426.5 779.5 426.5 779.5 419.5 780.5 419.5 780.5 399.5 782.5 399.5 782.5 395.5 783.5 395.5 783.5 374.5 784.5 374.5 784.5 404.5 785.5 404.5 785.5 415.5 787.5 415.5 787.5 392.5 788.5 392.5 788.5 434.5 789.5 434.5 789.5 434.5 791.5 434.5 791.5 442.5 792.5 442.5 792.5 384.5 793.5 384.5 793.5 451.5 794.5 451.5 794.5 399.5 796.5 399.5 796.5 422.5 797.5 422.5 797.5 419.5 798.5 419.5 798.5 405.5 799.5 405.5 799.5 405.5 801.5 405.5 801.5 400.5 802.5 400.5 802.5 411.5 803.5 411.5 803.5 386.5 805.5 386.5 805.5 386.5 806.5 386.5 806.5 399.5 807.5 399.5 807.5 399.5 808.5 399.5 808.5 430.5 810.5 430.5 810.5 378.5 811.5 378.5 811.5 375.5 812.5 375.5 812.5 375.5 814.5 375.5 814.5 424.5 815.5 424.5 815.5 402.5 816.5 402.5 816.5 401.5 817.5 401.5 817.5 395.5 819.5 395.5 819.5 382.5 820.5 382.5 820.5 382.5 821.5 382.5 821.5 422.5 822.5 422.5 822.5 370.5 824.5 370.5 824.5 367.5 825.5 367.5 825.5 338.5 826.5 338.5 826.5 367.5 828.5 367.5 828.5 381.5 829.5 381.5 829.5 382.5 830.5 382.5 830.5 452.5 831.5 452.5 831.5 452.5 833.5 452.5 833.5 376.5 834.5 376.5 834.5 400.5 835.5 400.5 835.5 398.5 837.5 398.5 837.5 373.5 838.5 373.5 838.5 421.5 839.5 421.5 839.5 421.5 840.5 421.5 840.5 373.5 842.5 373.5 842.5 355.5 843.5 355.5 843.5 398.5 844.5 398.5 844.5 381.5 845.5 381.5 845.5 364.5 847.5 364.5 847.5 364.5 848.5 364.5 848.5 378.5 849.5 378.5 849.5 379.5 851.5 379.5 851.5 365.5 852.5 365.5 852.5 363.5 853.5 363.5 853.5 364.5 854.5 364.5 854.5 361.5 856.5 361.5 856.5 407.5 857.5 407.5 857.5 407.5 858.5 407.5 858.5 399.5 860.5 399.5 860.5 320.5 861.5 320.5 861.5 350.5 862.5 350.5 862.5 402.5 863.5 402.5 863.5 402.5 865.5 402.5 865.5 355.5 866.5 355.5 866.5 404.5 867.5 404.5 867.5 404.5 869.5 404.5 869.5 388.5 870.5 388.5 870.5 364.5 871.5 364.5 871.5 364.5 872.5 364.5 872.5 326.5 874.5 326.5 874.5 358.5 875.5 358.5 875.5 373.5 876.5 373.5 876.5 345.5 877.5 345.5 877.5 345.5 879.5 345.5 879.5 388.5 880.5 388.5 880.5 380.5 881.5 380.5 881.5 355.5 883.5 355.5 883.5 330.5 884.5 330.5 884.5 330.5 885.5 330.5 885.5 348.5 886.5 348.5 886.5 378.5 888.5 378.5 888.5 338.5 889.5 338.5 889.5 361.5 890.5 361.5 890.5 314.5 892.5 314.5 892.5 314.5 893.5 314.5 893.5 368.5 894.5 368.5 894.5 368.5 895.5 368.5 895.5 326.5 897.5 326.5 897.5 373.5 898.5 373.5 898.5 341.5 899.5 341.5 899.5 341.5 900.5 341.5 900.5 341.5 902.5 341.5 902.5 380.5 903.5 380.5 903.5 322.5 904.5 322.5 904.5 339.5 906.5 339.5 906.5 329.5 907.5 329.5 907.5 329.5 908.5 329.5 908.5 334.5 909.5 334.5 909.5 324.5 911.5 324.5 911.5 349.5 912.5 349.5 912.5 317.5 913.5 317.5 913.5 328.5 915.5 328.5 915.5 328.5 916.5 328.5 916.5 364.5 917.5 364.5 917.5 364.5 918.5 364.5 918.5 335.5 920.5 335.5 920.5 315.5 921.5 315.5 921.5 384.5 922.5 384.5 922.5 322.5 924.5 322.5 924.5 322.5 925.5 322.5 925.5 358.5 926.5 358.5 926.5 357.5 927.5 357.5 927.5 348.5 929.5 348.5 929.5 399.5 930.5 399.5 930.5 366.5 931.5 366.5 931.5 334.5 932.5 334.5 932.5 310.5 934.5 310.5 934.5 364.5 935.5 364.5 935.5 329.5 936.5 329.5 936.5 344.5 938.5 344.5 938.5 319.5 939.5 319.5 939.5 370.5 940.5 370.5 940.5 370.5 941.5 370.5 941.5 355.5 943.5 355.5 943.5 324.5 944.5 324.5 944.5 340.5 945.5 340.5 945.5 316.5 947.5 316.5 947.5 316.5 948.5 316.5 948.5 334.5 949.5 334.5 949.5 323.5 950.5 323.5 950.5 284.5 952.5 284.5 952.5 354.5 953.5 354.5 953.5 297.5 954.5 297.5 954.5 296.5 955.5 296.5 955.5 294.5 957.5 294.5 957.5 296.5 958.5 296.5 958.5 349.5 959.5 349.5 959.5 349.5 961.5 349.5 961.5 316.5 962.5 316.5 962.5 322.5 963.5 322.5 963.5 297.5 964.5 297.5 964.5 331.5 966.5 331.5 966.5 348.5 967.5 348.5 967.5 348.5 968.5 348.5 968.5 306.5 970.5 306.5 970.5 324.5 971.5 324.5 971.5 345.5 972.5 345.5 972.5 345.5 973.5 345.5 973.5 321.5 975.5 321.5 975.5 326.5 976.5 326.5 976.5 339.5 977.5 339.5 977.5 337.5 979.5 337.5 979.5 332.5 980.5 332.5 980.5 319.5 981.5 319.5 981.5 326.5 982.5 326.5 982.5 293.5 984.5 293.5 984.5 310.5 985.5 310.5 985.5 357.5 986.5 357.5 986.5 357.5 987.5 357.5 987.5 351.5 989.5 351.5 989.5 317.5 990.5 317.5 990.5 324.5 991.5 324.5 991.5 320.5 993.5 320.5 993.5 280.5 994.5 280.5 994.5 338.5 995.5 338.5 995.5 338.5 996.5 338.5 996.5 288.5 998.5 288.5 998.5 354.5 999.5 354.5 999.5 322.5 1000.5 322.5 1000.5 326.5 1002.5 326.5 1002.5 312.5 1003.5 312.5 1003.5 302.5 1004.5 302.5 1004.5 356.5 1005.5 356.5 1005.5 323.5 1007.5 323.5 1007.5 323.5 1008.5 323.5 1008.5 333.5 1009.5 333.5 1009.5 333.5 1010.5 333.5 1010.5 293.5 1012.5 293.5 1012.5 282.5 1013.5 282.5 1013.5 289.5 1014.5 289.5 1014.5 311.5 1016.5 311.5 1016.5 305.5 1017.5 305.5 1017.5 274.5 1018.5 274.5 1018.5 274.5 1019.5 274.5 1019.5 294.5 1021.5 294.5 1021.5 341.5 1022.5 341.5 1022.5 285.5 1023.5 285.5 1023.5 336.5 1025.5 336.5 1025.5 280.5 1026.5 280.5 1026.5 346.5 1027.5 346.5 1027.5 288.5 1028.5 288.5 1028.5 321.5 1030.5 321.5 1030.5 271.5 1031.5 271.5 1031.5 310.5 1032.5 310.5 1032.5 280.5 1033.5 280.5 1033.5 333.5 1035.5 333.5 1035.5 284.5 1036.5 284.5 1036.5 297.5 1037.5 297.5 1037.5 298.5 1039.5 298.5 1039.5 298.5 1040.5 298.5 1040.5 275.5 1041.5 275.5 1041.5 296.5 1042.5 296.5 1042.5 326.5 1044.5 326.5 1044.5 344.5 1045.5 344.5 1045.5 310.5 1046.5 310.5 1046.5 317.5 1048.5 317.5 1048.5 349.5 1049.5 349.5 1049.5 258.5 1050.5 258.5 1050.5 295.5 1051.5 295.5 1051.5 295.5 1053.5 295.5 1053.5 349.5 1054.5 349.5 1054.5 264.5 1055.5 264.5 1055.5 264.5 1057.5 264.5 1057.5 315.5 1058.5 315.5 1058.5 294.5 1059.5 294.5 1059.5 297.5 1060.5 297.5 1060.5 277.5 1062.5 277.5 1062.5 277.5 1063.5 277.5 1063.5 268.5 1064.5 268.5 1064.5 342.5 1065.5 342.5 1065.5 275.5 1067.5 275.5 1067.5 331.5 1068.5 331.5 1068.5 285.5 1069.5 285.5 1069.5 285.5 1071.5 285.5 1071.5 276.5 1072.5 276.5 1072.5 261.5 1073.5 261.5 1073.5 261.5 1074.5 261.5 1074.5 291.5 1076.5 291.5 1076.5 296.5 1077.5 296.5 1077.5 284.5 1078.5 284.5 1078.5 285.5 1080.5 285.5 1080.5 260.5 1081.5 260.5 1081.5 305.5 1082.5 305.5 1082.5 305.5 1083.5 305.5 1083.5 286.5 1085.5 286.5 1085.5 313.5 1086.5 313.5 1086.5 277.5 1087.5 277.5 1087.5 278.5 1088.5 278.5 1088.5 281.5 1090.5 281.5 1090.5 293.5 1091.5 293.5 1091.5 292.5 1092.5 292.5 1092.5 292.5 1094.5 292.5 1094.5 260.5 1095.5 260.5 1095.5 286.5 1096.5 286.5 1096.5 322.5 1097.5 322.5 1097.5 262.5 1099.5 262.5 1099.5 271.5 1100.5 271.5 1100.5 285.5 1101.5 285.5 1101.5 284.5 1103.5 284.5 1103.5 247.5 1104.5 247.5 1104.5 283.5 1105.5 283.5 1105.5 282.5 1106.5 282.5 1106.5 269.5 1108.5 269.5 1108.5 292.5 1109.5 292.5 1109.5 276.5 1110.5 276.5 1110.5 275.5 1112.5 275.5 1112.5 268.5 1113.5 268.5 1113.5 318.5 1114.5 318.5 1114.5 262.5 1115.5 262.5 1115.5 269.5 1117.5 269.5 1117.5 288.5 1118.5 288.5 1118.5 300.5 1119.5 300.5 1119.5 300.5 1120.5 300.5 1120.5 258.5 1122.5 258.5 1122.5 260.5 1123.5 260.5 1123.5 271.5 1124.5 271.5 1124.5 267.5 1126.5 267.5 1126.5 272.5 1127.5 272.5 1127.5 268.5 1128.5 268.5 1128.5 268.5 1129.5 268.5 1129.5 248.5 1131.5 248.5 1131.5 279.5 1132.5 279.5 1132.5 263.5 1133.5 263.5 1133.5 270.5 1135.5 270.5 1135.5 250.5 1136.5 250.5 1136.5 259.5 1137.5 259.5 1137.5 251.5 1138.5 251.5 1138.5 251.5 1140.5 251.5 1140.5 251.5 1141.5 251.5 1141.5 274.5 1142.5 274.5 1142.5 333.5 1143.5 333.5 1143.5 268.5 1145.5 268.5 1145.5 263.5 1146.5 263.5 1146.5 263.5 1147.5 263.5 1147.5 262.5 1149.5 262.5 1149.5 289.5 1150.5 289.5 1150.5 248.5 1151.5 248.5 1151.5 248.5 1152.5 248.5 1152.5 303.5 1154.5 303.5 1154.5 292.5 1155.5 292.5 1155.5 260.5 1156.5 260.5 1156.5 289.5 1158.5 289.5 1158.5 248.5 1159.5 248.5 1159.5 261.5 1160.5 261.5 1160.5 275.5 1161.5 275.5 1161.5 258.5 1163.5 258.5 1163.5 272.5 1164.5 272.5 1164.5 266.5 1165.5 266.5 1165.5 280.5 1166.5 280.5 1166.5 280.5 1168.5 280.5 1168.5 254.5 1169.5 254.5 1169.5 266.5 1170.5 266.5 1170.5 258.5 1172.5 258.5 1172.5 246.5 1173.5 246.5 1173.5 249.5 1174.5 249.5 1174.5 249.5 1175.5 249.5 1175.5 267.5 1177.5 267.5 1177.5 238.5 1178.5 238.5 1178.5 267.5 1179.5 267.5 1179.5 285.5 1181.5 285.5 1181.5 238.5 1182.5 238.5 1182.5 275.5 1183.5 275.5 1183.5 276.5 1184.5 276.5 1184.5 257.5 1186.5 257.5 1186.5 267.5 1187.5 267.5 1187.5 246.5 1188.5 246.5 1188.5 267.5 1190.5 267.5 1190.5 257.5 1191.5 257.5 1191.5 268.5 1192.5 268.5 1192.5 238.5 1193.5 238.5 1193.5 238.5 1195.5 238.5 1195.5 249.5 1196.5 249.5 1196.5 269.5 1197.5 269.5 1197.5 255.5 1198.5 255.5 1198.5 249.5 1200.5 249.5 1200.5 262.5 1201.5 262.5 1201.5 262.5 1202.5 262.5 1202.5 251.5 1204.5 251.5 1204.5 262.5 1205.5 262.5 1205.5 285.5 1206.5 285.5 1206.5 285.5 1207.5 285.5 1207.5 238.5 1209.5 238.5 1209.5 285.5 1210.5 285.5 1210.5 267.5 1211.5 267.5 1211.5 289.5 1213.5 289.5 1213.5 261.5 1214.5 261.5 1214.5 238.5 1215.5 238.5 1215.5 249.5 1216.5 249.5 1216.5 251.5 1218.5 251.5 1218.5 267.5 1219.5 267.5 1219.5 249.5 1220.5 249.5 1220.5 269.5 1221.5 269.5 1221.5 269.5 1223.5 269.5 1223.5 238.5 1224.5 238.5 1224.5 251.5 1225.5 251.5 1225.5 281.5 1227.5 281.5 1227.5 238.5 1228.5 238.5 1228.5 253.5 1229.5 253.5 1229.5 254.5 1230.5 254.5 1230.5 238.5 1232.5 238.5 1232.5 249.5 1233.5 249.5 1233.5 247.5 1234.5 247.5 1234.5 238.5 1236.5 238.5 1236.5 238.5 1237.5 238.5 1237.5 254.5 1238.5 254.5 1238.5 238.5 1239.5 238.5 1239.5 238.5 1241.5 238.5 1241.5 283.5 1242.5 283.5 1242.5 238.5 1243.5 238.5 1243.5 277.5 1245.5 277.5 1245.5 267.5 1246.5 267.5 1246.5 251.5 1247.5 251.5 1247.5 259.5 1248.5 259.5 1248.5 259.5 1250.5 259.5 1250.5 261.5 1251.5 261.5 1251.5 250.5 1252.5 250.5 1252.5 261.5 1253.5 261.5 1253.5 238.5 1255.5 238.5 1255.5 238.5 1256.5 238.5 1256.5 252.5 1257.5 252.5 1257.5 238.5 1259.5 238.5 1259.5 254.5 1260.5 254.5 1260.5 238.5 1261.5 238.5 1261.5 238.5 1262.5 238.5 1262.5 238.5 1264.5 238.5 1264.5 255.5 1265.5 255.5 1265.5 238.5 1266.5 238.5 1266.5 238.5 1268.5 238.5 1268.5 252.5 1269.5 252.5 1269.5 238.5 1270.5 238.5 1270.5 238.5 1271.5 238.5 1271.5 238.5 1273.5 238.5 1273.5 249.5 1274.5 249.5 1274.5 277.5 1275.5 277.5 1275.5 238.5 1276.5 238.5 1276.5 261.5 1278.5 261.5 1278.5 258.5 1279.5 258.5 1279.5 258.5 1280.5 258.5 1280.5 255.5 1282.5 255.5 1282.5 250.5 1283.5 250.5 1283.5 249.5 1284.5 249.5 1284.5 238.5 1285.5 238.5 1285.5 238.5 1287.5 238.5 1287.5 250.5 1288.5 250.5 1288.5 238.5 1289.5 238.5 1289.5 254.5 1291.5 254.5 1291.5 238.5 1292.5 238.5 1292.5 238.5 1293.5 238.5 1293.5 238.5 1294.5 238.5 1294.5 280.5 1296.5 280.5 1296.5 273.5 1297.5 273.5 1297.5 238.5 1298.5 238.5 1298.5 238.5 1300.5 238.5 1300.5 251.5 1301.5 251.5 1301.5 285.5 1302.5 285.5 1302.5 285.5 1303.5 285.5 1303.5 250.5 1305.5 250.5 1305.5 250.5 1306.5 250.5 1306.5 238.5 1307.5 238.5 1307.5 238.5 1308.5 238.5 1308.5 238.5 1310.5 238.5 1310.5 238.5 1311.5 238.5 1311.5 238.5 1312.5 238.5 1312.5 238.5 1314.5 238.5 1314.5 281.5 1315.5 281.5 1315.5 285.5 1316.5 285.5 1316.5 238.5 1317.5 238.5 1317.5 238.5 1319.5 238.5 1319.5 238.5 1320.5 238.5 1320.5 238.5 1321.5 238.5 1321.5 238.5 1323.5 238.5 1323.5 263.5 1324.5 263.5 1324.5 238.5 1325.5 238.5 1325.5 238.5 1326.5 238.5 1326.5 271.5 1328.5 271.5 1328.5 238.5 1329.5 238.5 1329.5 262.5 1330.5 262.5 1330.5 277.5 1331.5 277.5 1331.5 271.5 1333.5 271.5 1333.5 271.5 1334.5 271.5 1334.5 238.5 1335.5 238.5 1335.5 238.5 1337.5 238.5 1337.5 238.5 1338.5 238.5 1338.5 238.5 1339.5 238.5 1339.5 238.5 1340.5 238.5 1340.5 238.5 1342.5 238.5 1342.5 238.5 1343.5 238.5 1343.5 285.5 1344.5 285.5 1344.5 285.5 1345.5 285.5 1345.5 1324.5" fill="none" stroke="#000099" stroke-width="1"/>
<rect x="149.5" y="98.5" width="1197.0" height="1226.0" fill="none" stroke="#000" stroke-width="1"/>
<path d="M150.5 1324.5V1289.5 M176.5 1324.5V1307.5 M202.5 1324.5V1307.5 M227.5 1324.5V1307.5 M253.5 1324.5V1307.5 M278.5 1324.5V1289.5 M304.5 1324.5V1307.5 M329.5 1324.5V1307.5 M355.5 1324.5V1307.5 M381.5 1324.5V1307.5 M406.5 1324.5V1289.5 M432.5 1324.5V1307.5 M457.5 1324.5V1307.5 M483.5 1324.5V1307.5 M509.5 1324.5V1307.5 M534.5 1324.5V1289.5 M560.5 1324.5V1307.5 M585.5 1324.5V1307.5 M611.5 1324.5V1307.5 M636.5 1324.5V1307.5 M662.5 1324.5V1289.5 M688.5 1324.5V1307.5 M713.5 1324.5V1307.5 M739.5 1324.5V1307.5 M764.5 1324.5V1307.5 M790.5 1324.5V1289.5 M815.5 1324.5V1307.5 M841.5 1324.5V1307.5 M867.5 1324.5V1307.5 M892.5 1324.5V1307.5 M918.5 1324.5V1289.5 M943.5 1324.5V1307.5 M969.5 1324.5V1307.5 M994.5 1324.5V1307.5 M1020.5 1324.5V1307.5 M1046.5 1324.5V1289.5 M1071.5 1324.5V1307.5 M1097.5 1324.5V1307.5 M1122.5 1324.5V1307.5 M1148.5 1324.5V1307.5 M1174.5 1324.5V1289.5 M1199.5 1324.5V1307.5 M1225.5 1324.5V1307.5 M1250.5 1324.5V1307.5 M1276.5 1324.5V1307.5 M1301.5 1324.5V1289.5 M1327.5 1324.5V1307.5 M149.5 1321.5H168.5 M149.5 1292.5H168.5 M149.5 1266.5H168.5 M149.5 1243.5H186.5 M149.5 1092.5H168.5 M149.5 1003.5H168.5 M149.5 940.5H168.5 M149.5 892.5H168.5 M149.5 852.5H168.5 M149.5 818.5H168.5 M149.5 789.5H168.5 M149.5 763.5H168.5 M149.5 740.5H186.5 M149.5 589.5H168.5 M149.5 501.5H168.5 M149.5 438.5H168.5 M149.5 389.5H168.5 M149.5 349.5H168.5 M149.5 316.5H168.5 M149.5 286.5H168.5 M149.5 261.5H168.5 M149.5 238.5H186.5" stroke="#000" stroke-width="1" fill="none"/>
<text transform="translate(261.72,69.00) scale(0.9850,1)" font-size="65.4">N</text>
<text transform="translate(303.17,86.80) scale(0.9860,1)" font-size="41.4">hit</text>
<text transform="translate(362.74,69.00) scale(0.9281,1)" font-size="65.4">(after</text>
<text transform="translate(522.21,69.00) scale(0.9299,1)" font-size="65.4">selection)</text>
<text transform="translate(800.99,69.00) scale(0.9327,1)" font-size="65.4">with</text>
<text transform="translate(925.63,69.00) scale(0.9352,1)" font-size="65.4">TDC</text>
<text transform="translate(1068.71,69.00) scale(0.9295,1)" font-size="65.4">Errors</text>
<text transform="translate(57.2,734.54) rotate(-90) scale(0.9522,1)" font-size="50.5">event fraction with TDC errors</text>
<path transform="translate(115.90,220.90) scale(1.0000)" d="M0 7L5.3 6C6.6 5.2 8 3 8.6 0H12.15V33.9H7.1V10.07H0Z" fill="#000"/>
<path transform="translate(59.90,727.90) scale(1.0000)" d="M0 7L5.3 6C6.6 5.2 8 3 8.6 0H12.15V33.9H7.1V10.07H0Z" fill="#000"/>
<text transform="translate(81.93,761.80) scale(0.9600,1)" font-size="49">0</text>
<rect x="107.4" y="731.4" width="16.5" height="2.1" fill="#000"/>
<path transform="translate(127.90,718.00) scale(0.6726)" d="M0 7L5.3 6C6.6 5.2 8 3 8.6 0H12.15V33.9H7.1V10.07H0Z" fill="#000"/>
<path transform="translate(54.80,1231.00) scale(1.0000)" d="M0 7L5.3 6C6.6 5.2 8 3 8.6 0H12.15V33.9H7.1V10.07H0Z" fill="#000"/>
<text transform="translate(76.54,1264.80) scale(0.9700,1)" font-size="49">0</text>
<rect x="102.1" y="1234" width="16.8" height="2.1" fill="#000"/>
<text transform="translate(119.24,1243.80) scale(1.0000,1)" font-size="33">2</text>
<text transform="translate(137.27,1373.50) scale(0.9563,1)" font-size="49">0</text>
<text transform="translate(366.28,1373.50) scale(0.9822,1)" font-size="49">200</text>
<text transform="translate(494.36,1373.50) scale(0.9837,1)" font-size="49">300</text>
<text transform="translate(622.81,1373.50) scale(0.9719,1)" font-size="49">400</text>
<text transform="translate(750.99,1373.50) scale(0.9733,1)" font-size="49">500</text>
<text transform="translate(878.04,1373.50) scale(0.9890,1)" font-size="49">600</text>
<text transform="translate(1005.12,1373.50) scale(0.9880,1)" font-size="49">700</text>
<text transform="translate(1133.52,1373.50) scale(0.9780,1)" font-size="49">800</text>
<text transform="translate(1261.65,1373.50) scale(0.9801,1)" font-size="49">900</text>
<path transform="translate(243.90,1339.00) scale(1.0000)" d="M0 7L5.3 6C6.6 5.2 8 3 8.6 0H12.15V33.9H7.1V10.07H0Z" fill="#000"/>
<text transform="translate(265.63,1373.50) scale(0.9768,1)" font-size="49">00</text>
<text transform="translate(1279.71,1416.80) scale(0.9620,1)" font-size="50.6">N</text>
<text transform="translate(1311.90,1431.80) scale(1.0000,1)" font-size="31.7">hit</text>
</svg></body></html>
